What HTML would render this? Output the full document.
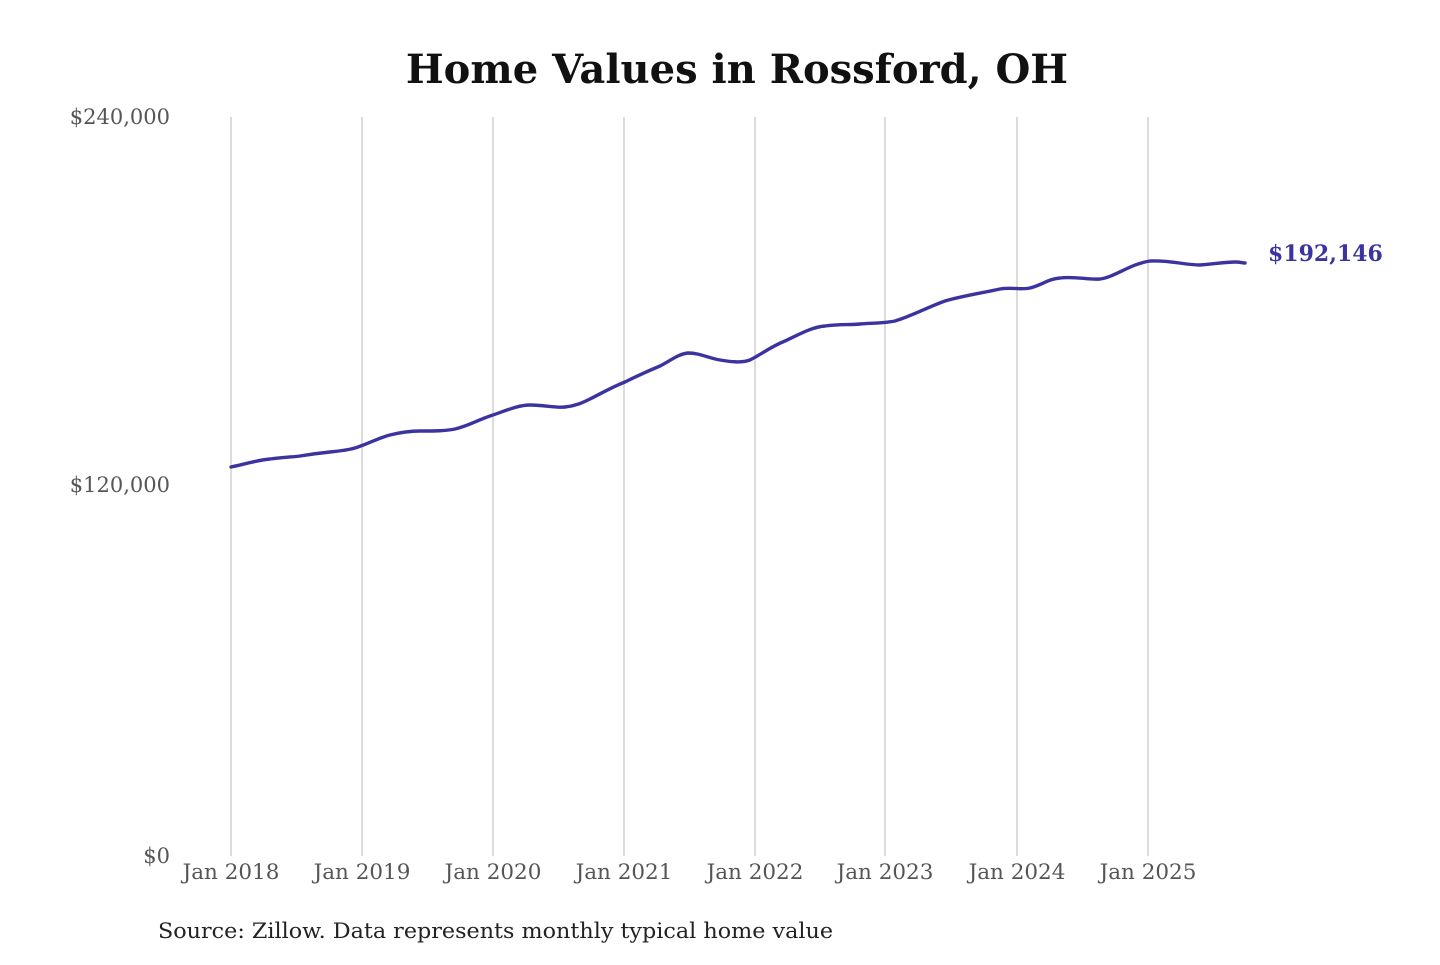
<!DOCTYPE html>
<html><head><meta charset="utf-8"><style>
body{margin:0;background:#fff;width:1440px;height:960px;overflow:hidden}
svg text{font-family:"DejaVu Serif","Liberation Serif",serif}
</style></head><body>
<svg width="1440" height="960" viewBox="0 0 1440 960">
<text x="737" y="83" text-anchor="middle" font-size="40" font-weight="bold" fill="#111">Home Values in Rossford, OH</text>
<g stroke="#c8c8c8" stroke-width="1.3">
<line x1="231" y1="117" x2="231" y2="856"/><line x1="362" y1="117" x2="362" y2="856"/>
<line x1="493" y1="117" x2="493" y2="856"/><line x1="624" y1="117" x2="624" y2="856"/>
<line x1="755" y1="117" x2="755" y2="856"/><line x1="885" y1="117" x2="885" y2="856"/>
<line x1="1017" y1="117" x2="1017" y2="856"/><line x1="1148" y1="117" x2="1148" y2="856"/>
</g>
<g font-size="21" fill="#555" text-anchor="end">
<text x="170" y="124">$240,000</text><text x="170" y="492">$120,000</text><text x="170" y="863">$0</text>
</g>
<g font-size="21.5" fill="#555" text-anchor="middle">
<text x="231" y="879">Jan 2018</text><text x="362" y="879">Jan 2019</text><text x="493" y="879">Jan 2020</text>
<text x="624" y="879">Jan 2021</text><text x="755" y="879">Jan 2022</text><text x="885" y="879">Jan 2023</text>
<text x="1017" y="879">Jan 2024</text><text x="1148" y="879">Jan 2025</text>
</g>
<path fill="none" stroke="#3b34a0" stroke-width="3.4" stroke-linejoin="round" stroke-linecap="round"
d="M231,467 C245,464 258,460 270,459 C285,457 293,457 300,456 C312,454 320,453 330,452 C340,451 348,450 355,448 C368,444 378,438 390,435 C402,432 410,431 420,431 C435,431 445,431 455,429 C468,426 478,420 490,416 C505,411 518,405 530,405 C545,405 555,408 565,407 C575,406 582,403 590,399 C602,393 612,387 625,382 C637,376 648,371 660,366 C670,361 678,354 688,353 C700,353 708,358 720,360 C732,362 742,363 750,360 C762,354 770,347 785,341 C800,334 812,327 825,326 C840,324 850,325 860,324 C875,323 885,323 895,321 C912,316 928,307 945,301 C962,296 982,293 1000,289 C1012,287 1022,290 1030,288 C1042,285 1048,279 1060,278 C1075,276 1088,280 1100,279 C1115,277 1130,264 1150,261 C1170,260 1185,265 1200,265 C1215,264 1225,262 1235,262 C1240,262 1243,263 1245,263"/>
<text x="1268" y="261" font-size="22" font-weight="bold" fill="#3b34a0">$192,146</text>
<text x="158" y="938" font-size="21.5" fill="#222" textLength="675" lengthAdjust="spacingAndGlyphs">Source: Zillow. Data represents monthly typical home value</text>
</svg>
</body></html>
